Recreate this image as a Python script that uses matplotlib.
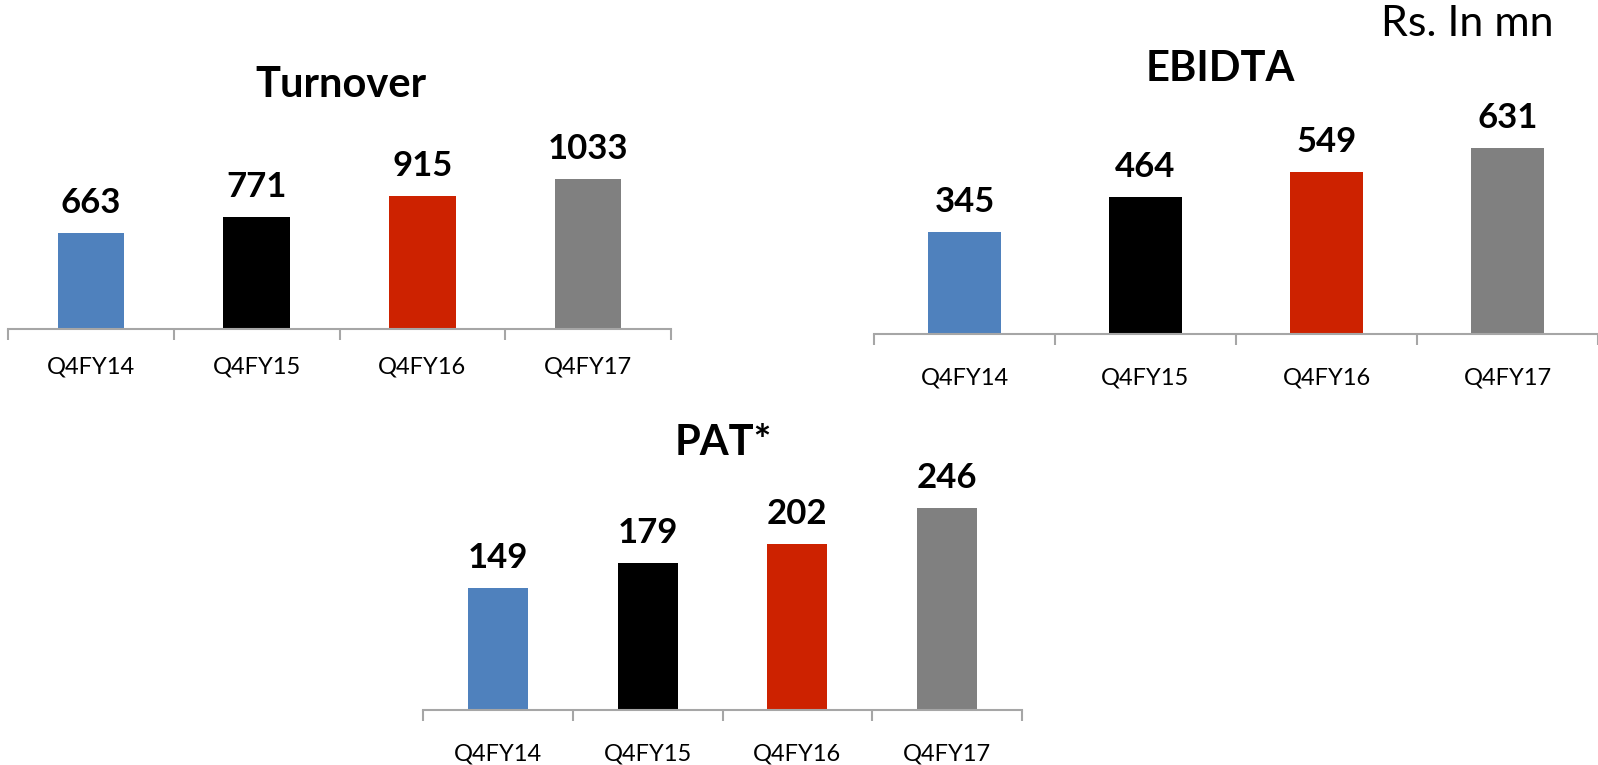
import matplotlib.pyplot as plt

# Quarterly figures, Rs. in mn
quarters = ["Q4FY14", "Q4FY15", "Q4FY16", "Q4FY17"]
turnover = [663, 771, 915, 1033]
ebidta = [345, 464, 549, 631]
pat = [149, 179, 202, 246]

bar_colors = ["#4F81BD", "#000000", "#CD2200", "#808080"]
FONT = ["Lato", "DejaVu Sans"]
W, H = 1598, 765


def draw_panel(fig, rect, values, title, title_xy, head_room, label_pad):
    """Bar panel with a grey base line and value labels over each bar."""
    ax = fig.add_axes(rect)
    x = range(len(quarters))
    bars = ax.bar(x, values, width=0.4, color=bar_colors)

    ax.set_xlim(-0.5, len(quarters) - 0.5)
    ax.set_ylim(0, max(values) * head_room)

    for side in ["left", "top", "right"]:
        ax.spines[side].set_visible(False)
    ax.spines["bottom"].set_color("#A6A6A6")
    ax.spines["bottom"].set_linewidth(1.5)
    ax.set_yticks([])

    # Category names at bar centres, tick marks between categories
    ax.set_xticks(list(x))
    ax.set_xticklabels(quarters, fontsize=17, family=FONT)
    ax.tick_params(axis="x", which="major", length=0, pad=label_pad)
    ax.set_xticks([i - 0.5 for i in range(len(quarters) + 1)], minor=True)
    ax.tick_params(axis="x", which="minor", length=8, width=1.5,
                   color="#A6A6A6", direction="out")

    ax.bar_label(bars, labels=[str(v) for v in values], padding=10,
                 fontsize=25, fontweight="bold", family=FONT)

    fig.text(title_xy[0] / W, 1 - title_xy[1] / H, title, ha="center",
             va="center", fontsize=30, fontweight="bold", family=FONT)
    return ax


fig = plt.figure(figsize=(W / 100, H / 100), dpi=100)

draw_panel(fig, [8 / W, 436 / H, 663 / W, 250 / H], turnover, "Turnover",
           (341, 85), 250 / 150, 20)
draw_panel(fig, [874 / W, 431 / H, 724 / W, 250 / H], ebidta, "EBIDTA",
           (1220, 69), 250 / 186.5, 24)
draw_panel(fig, [423 / W, 55 / H, 599 / W, 250 / H], pat, "PAT*",
           (723, 443), 250 / 202, 24)

fig.text(1554 / W, 1 - 24 / H, "Rs. In mn", ha="right", va="center",
         fontsize=31, family=FONT)

fig.savefig("out.png", dpi=100)
